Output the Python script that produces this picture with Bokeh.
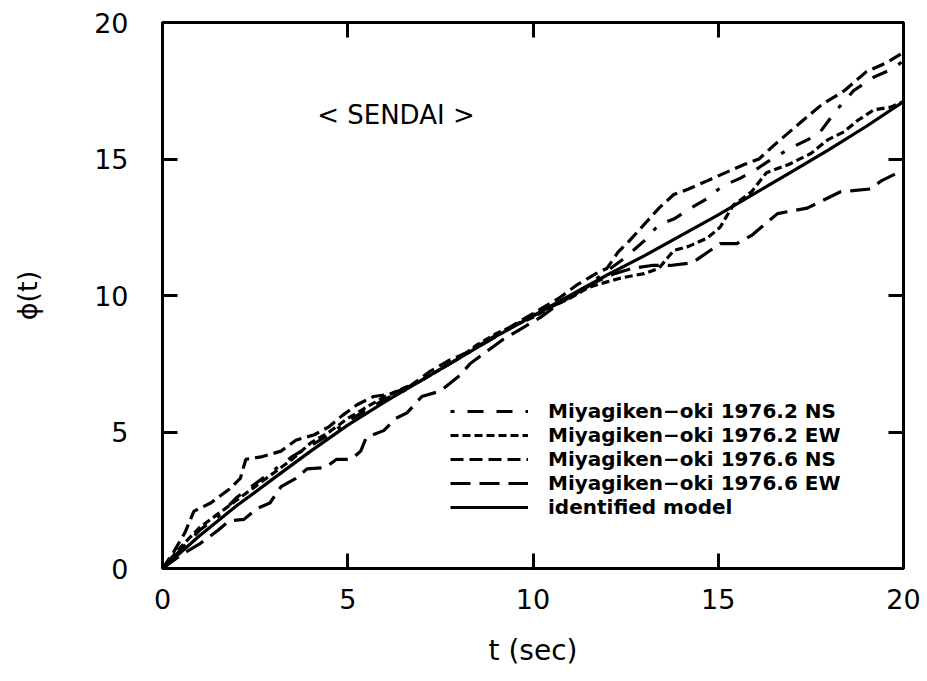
from bokeh.plotting import figure
from bokeh.models import (Legend, LegendItem, LinearAxis, FixedTicker, Range1d, Label)
from bokeh.embed import file_html
from bokeh.resources import INLINE

# ---------------- data ----------------
tick_values = [0, 5, 10, 15, 20]

t_ns762 = [0, 0.5, 1, 1.5, 2, 2.5, 3, 3.5, 4, 4.5, 5, 5.5, 6, 6.5, 7, 7.5, 8, 8.5, 9, 9.5, 10,
           10.5, 11, 11.5, 12, 12.5, 13.0, 13.4, 13.8, 14.25, 14.7, 15.1, 15.6, 16.0, 16.5,
           17.1, 17.7, 18.2, 18.65, 19.2, 19.7, 20]
phi_ns762 = [0, 0.7, 1.4, 1.9, 2.6, 3.1, 3.6, 4.1, 4.5, 4.9, 5.4, 5.8, 6.2, 6.5, 6.9, 7.3, 7.7,
             8.1, 8.5, 8.9, 9.3, 9.6, 9.9, 10.4, 10.9, 11.4, 12.0, 12.6, 12.8, 13.2, 13.55,
             14.0, 14.3, 14.6, 15.05, 15.5, 15.9, 16.8, 17.5, 18.0, 18.3, 18.6]

t_ew762 = [0, 0.5, 1, 1.5, 2, 2.5, 3, 3.5, 4, 4.5, 5, 5.5, 6, 6.5, 7, 7.5, 8, 8.5, 9, 9.5, 10,
           10.5, 11, 11.5, 12, 12.4, 13, 13.4, 13.8, 14.2, 14.7, 15.05, 15.4, 15.9, 16.3,
           16.9, 17.5, 17.95, 18.4, 18.75, 19.2, 19.65, 20]
phi_ew762 = [0, 0.8, 1.5, 2.0, 2.5, 3.0, 3.5, 4.0, 4.6, 5.0, 5.5, 5.9, 6.3, 6.6, 6.9, 7.3, 7.7,
             8.2, 8.6, 8.9, 9.2, 9.6, 9.9, 10.3, 10.5, 10.65, 10.8, 11.0, 11.65, 11.8, 12.1,
             12.5, 13.3, 13.8, 14.5, 14.8, 15.2, 15.7, 16.0, 16.4, 16.8, 16.9, 17.1]

t_ns766 = [0, 0.3, 0.6, 0.85, 1.3, 1.8, 2.1, 2.25, 2.7, 3.2, 3.6, 4.1, 4.5, 4.85, 5.25, 5.7,
           6.2, 6.7, 7.2, 7.7, 8.2, 8.7, 9.2, 9.7, 10.2, 10.7, 11.2, 11.7, 12.0, 12.3, 12.6,
           13.0, 13.4, 13.8, 14.2, 14.7, 15.2, 15.7, 16.1, 16.5, 17.1, 17.8, 18.4, 19.0,
           19.5, 20.0]
phi_ns766 = [0, 0.6, 1.3, 2.1, 2.4, 2.9, 3.3, 4.0, 4.1, 4.3, 4.7, 4.9, 5.2, 5.6, 6.0, 6.3,
             6.4, 6.7, 7.2, 7.6, 7.9, 8.3, 8.7, 9.1, 9.5, 9.9, 10.4, 10.8, 11.0, 11.6, 12.0,
             12.6, 13.2, 13.7, 13.9, 14.2, 14.5, 14.8, 15.0, 15.5, 16.2, 17.0, 17.5, 18.2,
             18.5, 18.9]

t_ew766 = [0, 0.5, 1, 1.5, 1.8, 2.2, 2.55, 2.9, 3.2, 3.6, 3.9, 4.4, 4.7, 5.1, 5.35, 5.5, 5.97,
           6.3, 6.6, 7.0, 7.5, 8.05, 8.3, 8.7, 9.2, 9.7, 10.2, 10.7, 11.2, 11.7, 12.2, 12.7,
           13.2, 13.7, 14.3, 15.05, 15.5, 15.9, 16.6, 17.4, 18.3, 19.1, 19.4, 20]
phi_ew766 = [0, 0.5, 0.9, 1.4, 1.75, 1.8, 2.2, 2.4, 3.0, 3.3, 3.65, 3.7, 4.0, 4.0, 4.3, 4.8,
             5.05, 5.5, 5.7, 6.3, 6.5, 7.1, 7.5, 7.9, 8.4, 8.8, 9.2, 9.7, 10.1, 10.5, 10.8,
             11.0, 11.1, 11.1, 11.2, 11.9, 11.9, 12.2, 13.0, 13.2, 13.8, 13.9, 14.2, 14.6]

t_model = [0, 1, 2, 3, 4, 5, 6, 7, 8, 9, 10, 11, 12, 13, 14, 15, 16, 17, 18, 19, 20]
phi_model = [0, 1.2, 2.3, 3.3, 4.3, 5.25, 6.1, 6.9, 7.7, 8.5, 9.25, 10.0, 10.75, 11.45, 12.2,
             12.95, 13.75, 14.55, 15.35, 16.2, 17.1]

labels = ["Miyagiken\u2212oki 1976.2 NS", "Miyagiken\u2212oki 1976.2 EW",
          "Miyagiken\u2212oki 1976.6 NS", "Miyagiken\u2212oki 1976.6 EW", "identified model"]

title_text = "< SENDAI >"
title_t, title_phi = 6.3, 16.6

# ---------------- figure ----------------
W, H = 927, 681
p = figure(width=W, height=H, output_backend="svg", toolbar_location=None,
           x_range=Range1d(0, 20), y_range=Range1d(0, 20),
           x_axis_location=None, y_axis_location=None,
           min_border_left=162, min_border_right=24, min_border_top=22, min_border_bottom=113)
p.grid.visible = False
p.outline_line_color = "black"
p.outline_line_width = 3
p.background_fill_color = "white"
p.border_fill_color = "white"

tick_font = "DejaVu Sans"

def make_axis(show_labels):
    ax = LinearAxis(ticker=FixedTicker(ticks=tick_values))
    ax.axis_line_color = None
    ax.major_tick_in = 15
    ax.major_tick_out = 0
    ax.major_tick_line_width = 3
    ax.minor_tick_line_color = None
    ax.major_label_text_font = tick_font
    if show_labels:
        ax.major_label_text_font_size = "27px"
        ax.major_label_text_color = "black"
    else:
        ax.major_label_text_font_size = "0px"
        ax.major_label_text_color = None
    return ax

left = make_axis(True)
left.major_label_standoff = 34
left.axis_label = "\u03d5(t)"
left.axis_label_text_font = tick_font
left.axis_label_text_font_size = "27px"
left.axis_label_text_font_style = "normal"
left.axis_label_text_color = "black"
left.axis_label_standoff = 48
p.add_layout(left, "left")

bottom = make_axis(True)
bottom.major_label_standoff = 20
bottom.axis_label = "t (sec)"
bottom.axis_label_text_font = tick_font
bottom.axis_label_text_font_size = "28px"
bottom.axis_label_text_font_style = "normal"
bottom.axis_label_text_color = "black"
bottom.axis_label_standoff = 22
p.add_layout(bottom, "below")

p.add_layout(make_axis(False), "right")
p.add_layout(make_axis(False), "above")

lw = 3.2
r1 = p.line(t_ns762, phi_ns762, line_color="black", line_width=lw, line_dash="4 13 16 13 16 13")
r2 = p.line(t_ew762, phi_ew762, line_color="black", line_width=lw, line_dash="8 4")
r3 = p.line(t_ns766, phi_ns766, line_color="black", line_width=lw, line_dash="13 6")
r4 = p.line(t_ew766, phi_ew766, line_color="black", line_width=lw, line_dash="20 9")
r5 = p.line(t_model, phi_model, line_color="black", line_width=lw)

legend = Legend(items=[LegendItem(label=lab, renderers=[r]) for lab, r in
                       zip(labels, [r1, r2, r3, r4, r5])],
                location=(288, 49), orientation="vertical")
legend.glyph_width = 78
legend.glyph_height = 20
legend.label_height = 20
legend.label_standoff = 20
legend.spacing = 0
legend.padding = 0
legend.margin = 0
legend.border_line_color = None
legend.background_fill_alpha = 0
legend.label_text_font = "DejaVu Sans"
legend.label_text_font_size = "20px"
legend.label_text_font_style = "bold"
legend.label_text_color = "black"
p.add_layout(legend, "center")

p.add_layout(Label(x=title_t, y=title_phi, text=title_text, text_align="center",
                   text_baseline="middle", text_font="DejaVu Sans", text_font_size="26px",
                   text_color="black"))

open("out.html", "w").write(file_html(p, INLINE))
